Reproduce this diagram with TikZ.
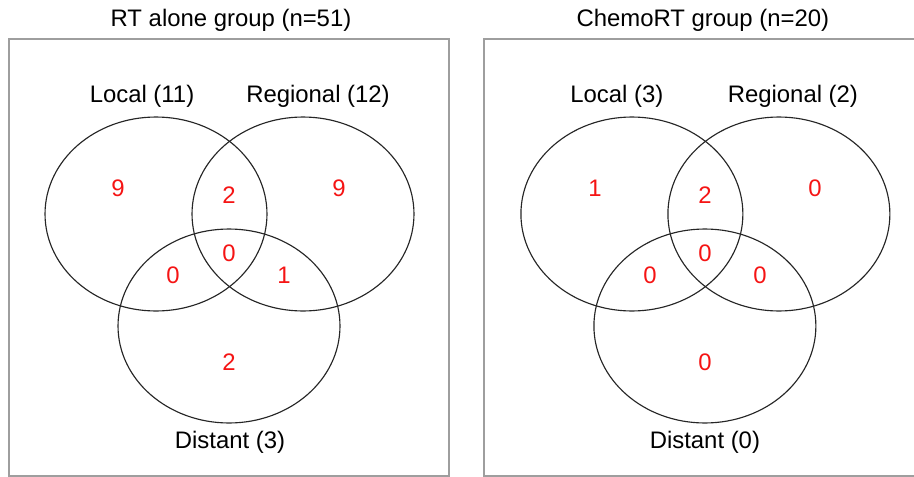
\documentclass[tikz,border=0pt]{standalone}
\usepackage{fontspec}
\setmainfont{Liberation Sans}
\usetikzlibrary{positioning}
\definecolor{countred}{RGB}{245,20,20}
\tikzset{
    panel/.style={draw=black!38, line width=0.75pt},
    setline/.style={draw=black!85, line width=0.65pt},
    lbl/.style={inner sep=0pt, font=\fontsize{13.6}{16}\selectfont},
    cnt/.style={inner sep=0pt, text=countred, font=\fontsize{13.6}{16}\selectfont},
    setshape/.style={setline, x radius=2.22cm, y radius=1.94cm}
}

\begin{document}
\begin{tikzpicture}[x=0.02cm, y=-0.02cm]
                        \clip (0, 0) rectangle (914, 477);

                        % RT alone
                        \begin{scope}[name prefix=rt-]
                        \node[lbl] (title) at (231, 20) {RT alone group (n=51)};
                        \draw[panel] (9, 39) rectangle (449, 476);
                        \coordinate (loc) at (156, 214);
                        \coordinate (reg) at (303, 214);
                        \coordinate (dis) at (229, 326);
                        \draw[setshape] (loc) ellipse [];
                        \draw[setshape] (reg) ellipse [];
                        \draw[setshape] (dis) ellipse [];
                        \node[lbl] (nloc) at (142, 96) {Local (11)};
                        \node[lbl] (nreg) at (318, 96) {Regional (12)};
                        \node[lbl] (ndis) at (230, 442) {Distant (3)};
                        \node[cnt] (a) at (118, 188) {9};
                        \node[cnt] (ab) at (229, 195) {2};
                        \node[cnt] (b) at (339, 188) {9};
                        \node[cnt] (abc) at (229, 253) {0};
                        \node[cnt] (ac) at (173, 275) {0};
                        \node[cnt] (bc) at (284, 275) {1};
                        \node[cnt] (c) at (229, 362) {2};
                        \end{scope}

                        % ChemoRT (box runs off the right edge)
                        \begin{scope}[name prefix=crt-, xshift=9.52cm]
                        \node[lbl] (title) at (227, 20) {ChemoRT group (n=20)};
                        \draw[panel] (470, 39) -| (8, 476) -- (470, 476);
                        \coordinate (loc) at (156, 214);
                        \coordinate (reg) at (303, 214);
                        \coordinate (dis) at (229, 326);
                        \draw[setshape] (loc) ellipse [];
                        \draw[setshape] (reg) ellipse [];
                        \draw[setshape] (dis) ellipse [];
                        \node[lbl] (nloc) at (141, 96) {Local (3)};
                        \node[lbl] (nreg) at (317, 96) {Regional (2)};
                        \node[lbl] (ndis) at (229, 442) {Distant (0)};
                        \node[cnt] (a) at (119, 188) {1};
                        \node[cnt] (ab) at (229, 195) {2};
                        \node[cnt] (b) at (339, 188) {0};
                        \node[cnt] (abc) at (229, 253) {0};
                        \node[cnt] (ac) at (174, 275) {0};
                        \node[cnt] (bc) at (284, 275) {0};
                        \node[cnt] (c) at (229, 362) {0};
                        \end{scope}
                    \end{tikzpicture}
\end{document}
